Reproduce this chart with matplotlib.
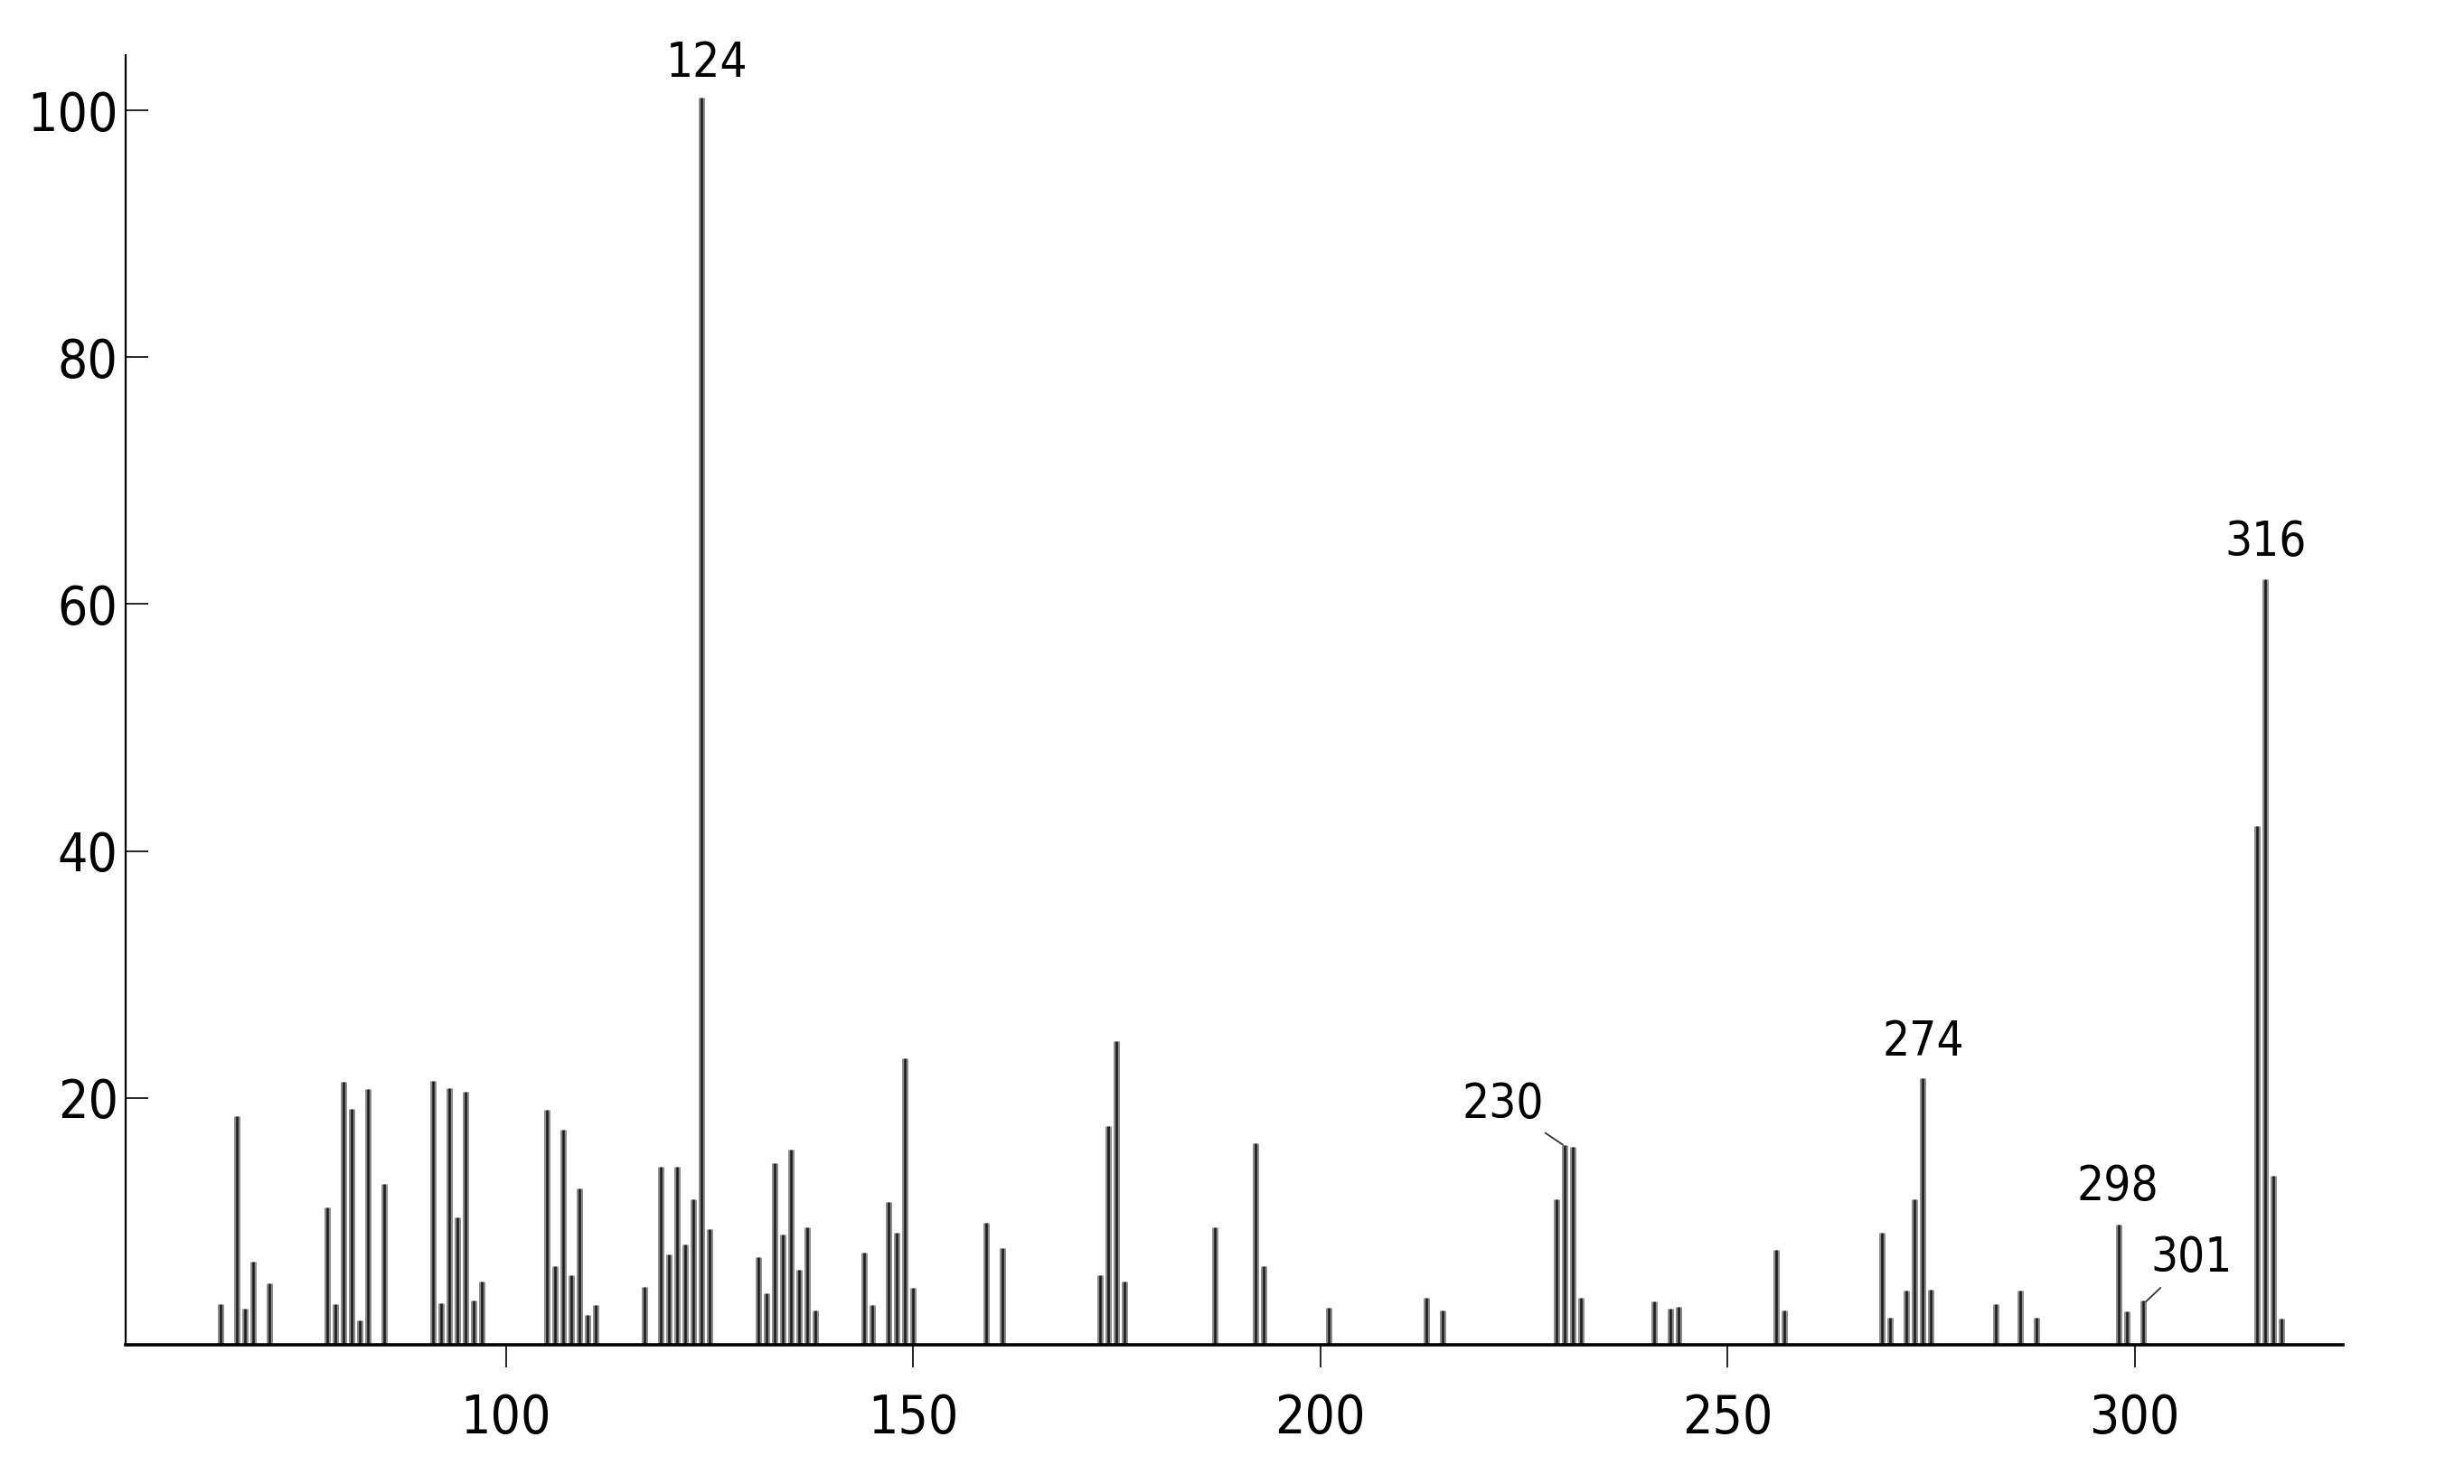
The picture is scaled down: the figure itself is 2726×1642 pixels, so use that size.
import matplotlib
matplotlib.use("Agg")
import matplotlib.pyplot as plt
from matplotlib import font_manager

# peak list (m/z, relative intensity %)
mz = [65, 67, 68, 69, 71,
      78, 79, 80, 81, 82, 83, 85,
      91, 92, 93, 94, 95, 96, 97,
      105, 106, 107, 108, 109, 110, 111,
      117, 119, 120, 121, 122, 123, 124, 125,
      131, 132, 133, 134, 135, 136, 137, 138,
      144, 145, 147, 148, 149, 150,
      159, 161, 173, 174, 175, 176,
      187, 192, 193, 201, 213, 215,
      229, 230, 231, 232, 241, 243, 244,
      256, 257, 269, 270, 272, 273, 274, 275,
      283, 286, 288, 298, 299, 301,
      315, 316, 317, 318]
intensity = [3.3, 18.5, 2.9, 6.7, 5.0,
             11.1, 3.3, 21.3, 19.1, 2.0, 20.7, 13.0,
             21.4, 3.4, 20.8, 10.3, 20.5, 3.6, 5.1,
             19.0, 6.4, 17.4, 5.6, 12.7, 2.4, 3.2,
             4.7, 14.4, 7.3, 14.4, 8.1, 11.8, 101.0, 9.4,
             7.1, 4.2, 14.7, 8.9, 15.8, 6.1, 9.5, 2.8,
             7.5, 3.2, 11.6, 9.1, 23.2, 4.6,
             9.9, 7.8, 5.6, 17.7, 24.6, 5.1,
             9.5, 16.3, 6.4, 3.0, 3.8, 2.8,
             11.8, 16.2, 16.0, 3.8, 3.5, 2.9, 3.1,
             7.7, 2.8, 9.1, 2.2, 4.4, 11.8, 21.6, 4.5,
             3.3, 4.4, 2.2, 9.7, 2.7, 3.6,
             42.0, 62.0, 13.7, 2.1]

x_ticks = [100, 150, 200, 250, 300]
y_ticks = [20, 40, 60, 80, 100]

# narrow face if there is one
names = {f.name for f in font_manager.fontManager.ttflist}
if 'Liberation Sans Narrow' in names:
    fp_tick = font_manager.FontProperties(family='Liberation Sans Narrow', size=46)
    fp_lab = font_manager.FontProperties(family='Liberation Sans Narrow', size=42)
else:
    fp_tick = font_manager.FontProperties(family='DejaVu Sans', stretch='condensed', size=42)
    fp_lab = font_manager.FontProperties(family='DejaVu Sans', stretch='condensed', size=38)

fig = plt.figure(figsize=(27.26, 16.42), dpi=100)
ax = fig.add_axes([0.051, 0.0938, 0.8999, 0.8693])

# scanned look: grey body with a dark core
ax.vlines(mz, 0, intensity, color='#8c8c8c', linewidth=5.0)
ax.vlines(mz, 0, intensity, color='#1a1a1a', linewidth=1.8)

ax.set_xlim(53.3, 325.6)
ax.set_ylim(0, 104.5)

ax.spines['top'].set_visible(False)
ax.spines['right'].set_visible(False)
ax.spines['bottom'].set_linewidth(2.6)
ax.spines['left'].set_linewidth(1.6)

ax.set_xticks(x_ticks)
ax.set_yticks(y_ticks)
ax.tick_params(axis='x', direction='out', length=18, width=1.2, pad=20)
ax.tick_params(axis='y', direction='in', length=18, width=1.2, pad=6)
for lab in ax.get_xticklabels() + ax.get_yticklabels():
    lab.set_fontproperties(fp_tick)

# peak labels
lab_kw = dict(fontproperties=fp_lab, ha='center', va='center')
ax.text(124.7, 103.8, '124', clip_on=False, **lab_kw)
ax.text(274.1, 24.5, '274', **lab_kw)
ax.text(297.9, 12.8, '298', **lab_kw)
ax.text(316.1, 65.0, '316', **lab_kw)
ax.annotate('230', xy=(229.8, 16.2), xytext=(222.4, 19.5),
            arrowprops=dict(arrowstyle='-', color='#333333', lw=1.3,
                            shrinkA=4, shrinkB=0), **lab_kw)
ax.annotate('301', xy=(301.4, 3.5), xytext=(307.0, 7.0),
            arrowprops=dict(arrowstyle='-', color='#333333', lw=1.3,
                            shrinkA=4, shrinkB=0), **lab_kw)

fig.savefig('out.png', dpi=100, facecolor='white')
